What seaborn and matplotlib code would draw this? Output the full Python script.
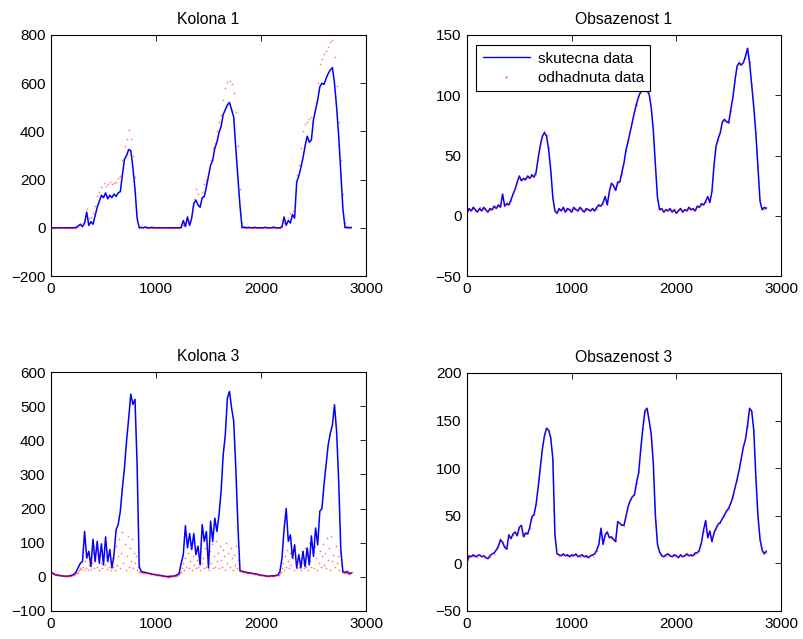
import numpy as np
import pandas as pd
import matplotlib
matplotlib.use("Agg")
import matplotlib.pyplot as plt
from matplotlib.lines import Line2D
import seaborn as sns

# ---------------- data (sample index step 20; red of Kolona 3 step 10) ----------------
sample_step = 20
sample_step_fine = 10
n_samples = 2880

kolona1_skutecna = [
    0, 0, 0, 0, 0, 0, 0, 0, 0, 0,
    0, 0, 2, 8, 15, 5, 20, 65, 10, 25,
    15, 50, 85, 110, 135, 125, 145, 120, 135, 125,
    140, 130, 145, 150, 220, 285, 300, 325, 320, 250,
    160, 40, 0, 2, 0, 3, 0, 0, 2, 0,
    0, 0, 0, 0, 0, 0, 0, 0, 0, 0,
    0, 0, 2, 30, 5, 45, 10, 40, 100, 115,
    95, 85, 125, 130, 170, 215, 260, 280, 330, 355,
    395, 420, 470, 490, 510, 520, 490, 460, 330, 210,
    90, 0, 3, 0, 2, 0, 0, 2, 0, 0,
    0, 0, 2, 0, 0, 0, 3, 0, 0, 0,
    5, 45, 10, 30, 20, 55, 40, 190, 215, 250,
    290, 340, 380, 355, 365, 450, 490, 530, 585, 600,
    595, 620, 640, 655, 665, 600, 500, 380, 230, 80,
    0, 3, 0, 2,
]
kolona1_odhadnuta = [
    0, 0, 0, 0, 0, 0, 0, 0, 0, 0,
    0, 0, 0, 5, 10, 20, 30, 80, 40, 45,
    60, 90, 130, 150, 170, 185, 175, 180, 190, 180,
    185, 190, 205, 215, 280, 340, 370, 405, 370, 300,
    210, 70, 0, 0, 0, 0, 0, 0, 0, 0,
    0, 0, 0, 0, 0, 0, 0, 0, 0, 0,
    0, 0, 0, 10, 20, 30, 20, 60, 120, 160,
    140, 100, 150, 180, 200, 240, 280, 330, 350, 400,
    440, 470, 530, 580, 605, 610, 595, 560, 480, 340,
    160, 20, 0, 0, 0, 0, 0, 0, 0, 0,
    0, 0, 0, 0, 0, 0, 0, 0, 0, 0,
    5, 20, 20, 40, 60, 70, 80, 220, 260, 330,
    400, 430, 440, 450, 460, 480, 520, 600, 680, 700,
    720, 735, 750, 770, 780, 710, 590, 440, 280, 140,
    20, 0, 0, 0,
]
obsazenost1_skutecna = [
    2, 6, 4, 7, 5, 3, 6, 4, 7, 5,
    3, 6, 5, 8, 6, 9, 7, 18, 8, 10,
    9, 13, 18, 22, 28, 33, 29, 31, 30, 33,
    31, 34, 32, 36, 48, 58, 66, 69, 66, 55,
    38, 15, 4, 2, 6, 4, 7, 3, 6, 5,
    3, 7, 5, 4, 7, 5, 3, 6, 5, 4,
    6, 4, 7, 9, 8, 11, 16, 9, 20, 27,
    25, 21, 28, 28, 36, 44, 55, 62, 70, 78,
    86, 93, 99, 103, 106, 107, 104, 101, 90, 71,
    42, 15, 5, 6, 3, 5, 4, 6, 3, 5,
    2, 4, 6, 3, 5, 4, 7, 5, 6, 4,
    8, 7, 10, 9, 12, 16, 11, 20, 42, 58,
    64, 69, 78, 80, 78, 77, 88, 98, 112, 124,
    127, 125, 127, 132, 139, 127, 108, 90, 68, 40,
    12, 5, 7, 6,
]
obsazenost1_odhadnuta = [
    3, 5, 5, 6, 4, 4, 7, 5, 6, 4,
    4, 5, 6, 7, 7, 8, 8, 16, 9, 11,
    10, 12, 19, 23, 27, 32, 30, 30, 31, 32,
    32, 33, 33, 35, 47, 59, 65, 70, 67, 56,
    36, 14, 5, 3, 5, 5, 6, 4, 5, 6,
    4, 6, 6, 5, 6, 4, 4, 5, 6, 5,
    5, 5, 6, 8, 9, 10, 15, 10, 19, 26,
    24, 22, 27, 29, 35, 45, 54, 61, 71, 77,
    87, 92, 99, 103, 106, 106, 103, 100, 89, 70,
    40, 13, 6, 5, 4, 6, 5, 5, 4, 6,
    3, 5, 5, 4, 6, 5, 6, 6, 5, 5,
    7, 8, 9, 10, 11, 15, 12, 21, 41, 59,
    63, 70, 77, 79, 79, 78, 87, 99, 111, 123,
    126, 126, 128, 131, 138, 128, 109, 89, 69, 41,
    13, 6, 6, 7,
]
kolona3_skutecna = [
    14, 10, 6, 5, 4, 3, 2, 2, 2, 3,
    5, 8, 15, 28, 40, 45, 133, 55, 75, 30,
    110, 45, 104, 40, 97, 35, 117, 45, 80, 26,
    65, 138, 153, 192, 260, 320, 400, 465, 535, 505,
    520, 330, 30, 16, 14, 13, 11, 10, 8, 7,
    6, 5, 4, 3, 2, 1, 1, 2, 2, 3,
    6, 10, 40, 65, 150, 85, 127, 80, 127, 65,
    90, 35, 153, 104, 133, 26, 163, 104, 172, 133,
    182, 250, 358, 416, 524, 543, 494, 456, 319, 150,
    18, 16, 15, 13, 12, 11, 10, 9, 8, 6,
    5, 4, 3, 2, 2, 3, 3, 4, 5, 15,
    55, 140, 200, 104, 123, 55, 94, 26, 65, 26,
    75, 30, 85, 35, 120, 60, 143, 94, 192, 200,
    270, 328, 387, 420, 445, 504, 426, 280, 80, 15,
    12, 16, 9, 12,
]
kolona3_odhadnuta = [
    14, 12, 10, 9, 8, 7, 6, 6, 5, 5,
    4, 4, 3, 3, 3, 2, 2, 2, 2, 3,
    4, 5, 6, 8, 10, 12, 15, 20, 25, 22,
    30, 20, 45, 25, 60, 20, 35, 50, 22, 40,
    70, 25, 45, 90, 30, 55, 20, 80, 40, 25,
    60, 35, 100, 22, 45, 30, 75, 20, 40, 28,
    55, 20, 90, 35, 60, 110, 25, 70, 130, 40,
    95, 20, 60, 120, 30, 85, 45, 110, 25, 70,
    40, 60, 20, 30, 15, 14, 13, 13, 12, 12,
    11, 11, 10, 10, 9, 9, 8, 8, 7, 7,
    6, 6, 5, 5, 4, 4, 3, 3, 2, 2,
    1, 1, 1, 1, 2, 2, 2, 2, 3, 3,
    5, 6, 8, 10, 15, 25, 40, 20, 55, 30,
    70, 25, 45, 90, 20, 60, 35, 80, 25, 50,
    30, 65, 20, 100, 40, 55, 25, 85, 30, 60,
    20, 75, 40, 95, 25, 60, 30, 105, 45, 70,
    25, 90, 50, 30, 80, 60, 20, 100, 40, 70,
    30, 85, 55, 20, 65, 35, 90, 25, 50, 20,
    18, 17, 16, 15, 14, 13, 13, 12, 12, 11,
    11, 10, 10, 9, 9, 8, 7, 7, 6, 6,
    5, 5, 4, 4, 3, 3, 2, 2, 2, 2,
    3, 3, 3, 4, 4, 5, 5, 6, 10, 15,
    25, 40, 20, 60, 30, 80, 45, 25, 70, 35,
    55, 20, 90, 40, 25, 65, 30, 50, 20, 75,
    40, 25, 85, 30, 60, 20, 100, 45, 30, 70,
    25, 90, 55, 20, 110, 40, 75, 30, 60, 95,
    35, 70, 25, 115, 50, 85, 20, 120, 45, 65,
    30, 90, 40, 60, 20, 75, 35, 15, 14, 16,
    12, 15, 10, 13, 9, 12, 11, 13,
]
obsazenost3_skutecna = [
    1, 8, 7, 9, 7, 8, 9, 7, 8, 6,
    5, 8, 10, 11, 14, 18, 25, 22, 17, 15,
    30, 26, 31, 33, 29, 38, 40, 28, 32, 31,
    38, 49, 51, 62, 80, 100, 120, 134, 142, 140,
    132, 110, 30, 10, 9, 8, 10, 8, 9, 7,
    9, 8, 10, 7, 8, 9, 7, 8, 6, 8,
    9, 10, 14, 20, 37, 20, 30, 33, 27, 28,
    25, 23, 44, 42, 40, 40, 50, 60, 66, 70,
    72, 85, 95, 120, 142, 160, 163, 150, 136, 105,
    50, 20, 12, 8, 7, 9, 10, 8, 7, 9,
    8, 6, 9, 7, 8, 10, 8, 9, 8, 11,
    11, 14, 22, 35, 45, 27, 34, 23, 32, 37,
    41, 43, 47, 51, 55, 58, 63, 70, 79, 88,
    98, 110, 122, 130, 145, 163, 160, 140, 90, 50,
    25, 14, 10, 13,
]
obsazenost3_odhadnuta = [
    2, 7, 8, 8, 8, 7, 9, 8, 7, 7,
    6, 7, 11, 10, 15, 17, 24, 23, 18, 16,
    29, 27, 30, 32, 30, 37, 39, 29, 31, 32,
    37, 48, 52, 61, 79, 101, 119, 135, 141, 139,
    131, 109, 31, 11, 8, 9, 9, 9, 8, 8,
    8, 9, 9, 8, 7, 8, 8, 7, 7, 9,
    8, 11, 13, 21, 35, 21, 29, 32, 28, 27,
    26, 24, 43, 41, 41, 39, 51, 59, 67, 71,
    73, 84, 96, 119, 141, 159, 162, 151, 135, 104,
    51, 21, 11, 9, 8, 8, 9, 9, 8, 8,
    9, 7, 8, 8, 9, 9, 9, 8, 9, 10,
    12, 13, 23, 34, 44, 28, 33, 24, 31, 36,
    42, 42, 48, 50, 56, 57, 64, 69, 80, 87,
    99, 109, 121, 131, 144, 162, 159, 139, 91, 49,
    24, 13, 11, 12,
]

titles = ["Kolona 1", "Obsazenost 1", "Kolona 3", "Obsazenost 3"]
ylims = [(-200, 800), (-50, 150), (-100, 600), (-50, 200)]
ysteps = [200, 50, 100, 50]
xticks_vals = [0, 1000, 2000, 3000]
legend_labels = ["skutecna data", "odhadnuta data"]

# ---------------- figure ----------------
sns.set_style("white")
plt.rcParams["font.family"] = ["Liberation Sans", "DejaVu Sans"]
plt.rcParams["font.size"] = 11
plt.rcParams["text.color"] = "black"
plt.rcParams["axes.titlecolor"] = "black"

fig = plt.figure(figsize=(8.04, 6.39), dpi=100)
W, H = 804, 639
boxes = [(51, 35, 366, 276), (467, 35, 781, 276),
         (51, 372, 366, 611), (467, 373, 781, 611)]
axes = []
for (l, t, r, b) in boxes:
    axes.append(fig.add_axes([l / W, 1 - b / H, (r - l) / W, (b - t) / H]))

x = np.arange(0, n_samples, sample_step)
x_fine = np.arange(0, n_samples, sample_step_fine)

series = [
    (kolona1_skutecna, kolona1_odhadnuta, x),
    (obsazenost1_skutecna, obsazenost1_odhadnuta, x),
    (kolona3_skutecna, kolona3_odhadnuta, x_fine),
    (obsazenost3_skutecna, obsazenost3_odhadnuta, x),
]

for i, ax in enumerate(axes):
    blue, red, xr = series[i]
    dfb = pd.DataFrame({"x": x, "y": blue})
    dfr = pd.DataFrame({"x": xr, "y": red})
    sns.lineplot(data=dfb, x="x", y="y", ax=ax, color="#0000ff", linewidth=1.1,
                 estimator=None, legend=False)
    sns.scatterplot(data=dfr, x="x", y="y", ax=ax, color="#ff0000", s=1.6,
                    linewidth=0, alpha=0.5, legend=False, zorder=3)
    ax.set_xlim(0, 3000)
    ax.set_ylim(*ylims[i])
    ax.set_xticks(xticks_vals)
    ax.set_yticks(np.arange(ylims[i][0], ylims[i][1] + 1, ysteps[i]))
    ax.set_xlabel("")
    ax.set_ylabel("")
    ax.set_title(titles[i], fontsize=11.3, pad=8, color="black")
    ax.tick_params(direction="in", top=True, right=True, length=4, width=0.6,
                   labelsize=11, pad=4, colors="black")
    for sp in ax.spines.values():
        sp.set_visible(True)
        sp.set_color("black")
        sp.set_linewidth(0.8)

handles = [Line2D([], [], color="#0000ff", linewidth=1.0),
           Line2D([], [], color="#ff0000", marker=".", markersize=1.5,
                  linestyle="", alpha=0.5)]
leg = axes[1].legend(handles, legend_labels, loc="upper left",
                     bbox_to_anchor=(0.029, 0.958), borderaxespad=0,
                     fontsize=11, frameon=True, fancybox=False,
                     edgecolor="black", framealpha=1, handlelength=3.1,
                     borderpad=0.42, labelspacing=0.35, handletextpad=0.5)
leg.get_frame().set_linewidth(0.8)
for t in leg.get_texts():
    t.set_color("black")

fig.savefig("out.png", dpi=100)
